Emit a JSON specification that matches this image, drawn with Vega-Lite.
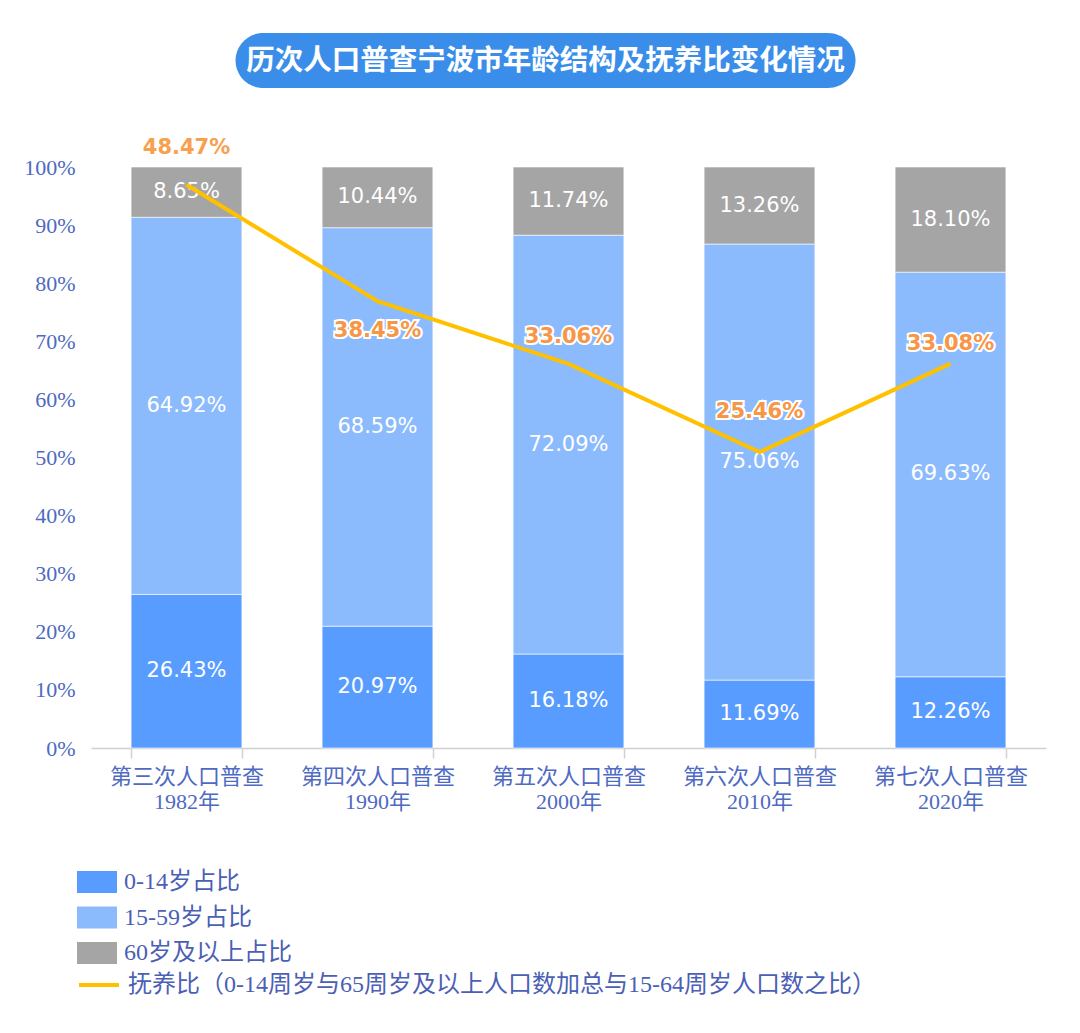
{
  "$schema": "https://vega.github.io/schema/vega-lite/v6.json",
  "padding": {"left": 23, "top": 33, "right": 10, "bottom": 10},
  "background": "white",
  "config": {"view": {"stroke": null}, "concat": {"spacing": 48}},
  "datasets": {
    "ages": [
      {"cen": "第三次人口普查 1982年", "grp": "0-14岁占比", "k": 1, "v": 0.2643},
      {"cen": "第三次人口普查 1982年", "grp": "15-59岁占比", "k": 2, "v": 0.6492},
      {"cen": "第三次人口普查 1982年", "grp": "60岁及以上占比", "k": 3, "v": 0.0865},
      {"cen": "第四次人口普查 1990年", "grp": "0-14岁占比", "k": 1, "v": 0.2097},
      {"cen": "第四次人口普查 1990年", "grp": "15-59岁占比", "k": 2, "v": 0.6859},
      {"cen": "第四次人口普查 1990年", "grp": "60岁及以上占比", "k": 3, "v": 0.1044},
      {"cen": "第五次人口普查 2000年", "grp": "0-14岁占比", "k": 1, "v": 0.1618},
      {"cen": "第五次人口普查 2000年", "grp": "15-59岁占比", "k": 2, "v": 0.7209},
      {"cen": "第五次人口普查 2000年", "grp": "60岁及以上占比", "k": 3, "v": 0.1174},
      {"cen": "第六次人口普查 2010年", "grp": "0-14岁占比", "k": 1, "v": 0.1169},
      {"cen": "第六次人口普查 2010年", "grp": "15-59岁占比", "k": 2, "v": 0.7506},
      {"cen": "第六次人口普查 2010年", "grp": "60岁及以上占比", "k": 3, "v": 0.1326},
      {"cen": "第七次人口普查 2020年", "grp": "0-14岁占比", "k": 1, "v": 0.1226},
      {"cen": "第七次人口普查 2020年", "grp": "15-59岁占比", "k": 2, "v": 0.6963},
      {"cen": "第七次人口普查 2020年", "grp": "60岁及以上占比", "k": 3, "v": 0.1810}
    ],
    "ratio": [
      {"cen": "第三次人口普查 1982年", "r": 0.4847},
      {"cen": "第四次人口普查 1990年", "r": 0.3845},
      {"cen": "第五次人口普查 2000年", "r": 0.3306},
      {"cen": "第六次人口普查 2010年", "r": 0.2546},
      {"cen": "第七次人口普查 2020年", "r": 0.3308}
    ],
    "title": [{"t": "历次人口普查宁波市年龄结构及抚养比变化情况"}]
  },
  "vconcat": [
    {
      "width": 620,
      "height": 55,
      "data": {"name": "title"},
      "title": {"text": " ", "orient": "right", "fontSize": 30, "offset": 16},
      "layer": [
        {"mark": {"type": "rect", "cornerRadius": 27.5, "color": "#3A8EEA"}, "encoding": {}},
        {"mark": {"type": "text", "color": "white", "font": "Noto Sans CJK SC", "fontWeight": "bold", "fontSize": 28.5, "baseline": "middle", "align": "center"},
         "encoding": {"text": {"field": "t"}}}
      ]
    },
    {
      "width": 955,
      "height": 581,
      "resolve": {"scale": {"y": "independent"}},
      "encoding": {
        "x": {
          "field": "cen", "type": "nominal", "sort": null,
          "scale": {"paddingInner": 0.42, "paddingOuter": 0.21},
          "axis": {
            "title": null, "labelAngle": 0, "labelExpr": "split(datum.label, ' ')",
            "labelFont": "Liberation Serif, Noto Sans CJK SC", "labelFontSize": 22, "labelColor": "#4E6AC2",
            "labelLineHeight": 25, "labelPadding": 8, "tickBand": "extent", "tickSize": 10,
            "domainColor": "#D0D0D0", "tickColor": "#D0D0D0", "domainWidth": 1.5, "tickWidth": 1.5
          }
        }
      },
      "layer": [
        {
          "data": {"name": "ages"},
          "mark": {"type": "bar", "stroke": "#ffffff", "strokeWidth": 1, "strokeOpacity": 0.6},
          "encoding": {
            "y": {"field": "v", "type": "quantitative", "stack": "normalize",
              "axis": {"title": null, "format": ".0%", "values": [0, 0.1, 0.2, 0.3, 0.4, 0.5, 0.6, 0.7, 0.8, 0.9, 1.0],
                "domain": false, "ticks": false, "grid": false, "labelFont": "Liberation Serif", "labelFontSize": 22,
                "labelColor": "#4E6AC2", "labelPadding": 16}},
            "color": {"field": "grp", "type": "nominal",
              "scale": {"domain": ["0-14岁占比", "15-59岁占比", "60岁及以上占比"], "range": ["#599CFF", "#8BBBFD", "#A5A5A5"]},
              "legend": {"title": null, "orient": "none", "legendX": -14, "legendY": 829, "direction": "vertical",
                "symbolType": "M-1,-0.55H1V0.55H-1Z", "symbolSize": 1600, "symbolStrokeWidth": 0,
                "labelFont": "Liberation Serif, Noto Sans CJK SC", "labelFontSize": 24, "labelColor": "#4B5FB5",
                "labelOffset": 7, "rowPadding": 3.5, "labelLimit": 1000}},
            "order": {"field": "k", "type": "quantitative"}
          }
        },
        {
          "data": {"name": "ages"},
          "mark": {"type": "text", "color": "white", "font": "DejaVu Sans", "fontSize": 21, "baseline": "middle"},
          "encoding": {
            "y": {"field": "v", "type": "quantitative", "stack": "normalize", "bandPosition": 0.5, "axis": null},
            "detail": {"field": "grp"},
            "order": {"field": "k", "type": "quantitative"},
            "text": {"field": "v", "type": "quantitative", "format": ".2%"}
          }
        },
        {
          "data": {"name": "ratio"},
          "layer": [
            {
              "mark": {"type": "line", "strokeWidth": 4},
              "encoding": {
                "y": {"field": "r", "type": "quantitative", "scale": {"domain": [0, 0.5]}, "axis": null},
                "stroke": {"datum": "抚养比（0-14周岁与65周岁及以上人口数加总与15-64周岁人口数之比）", "type": "nominal",
                  "scale": {"range": ["#FFC000"]},
                  "legend": {"title": null, "orient": "none", "legendX": -14, "legendY": 930,
                    "symbolType": "stroke", "symbolSize": 1600, "symbolStrokeWidth": 4,
                    "labelFont": "Liberation Serif, Noto Sans CJK SC", "labelFontSize": 24, "labelColor": "#4B5FB5",
                    "labelOffset": 7, "labelLimit": 1000}}
              }
            },
            {"transform": [{"filter": "datum.r == 0.4847"}],
             "layer": [
               {"mark": {"type": "text", "dy": -37, "font": "DejaVu Sans", "fontWeight": "bold", "fontSize": 21, "stroke": "white", "strokeWidth": 4, "baseline": "middle"},
                "encoding": {"y": {"field": "r", "type": "quantitative", "scale": {"domain": [0, 0.5]}, "axis": null}, "text": {"field": "r", "type": "quantitative", "format": ".2%"}}},
               {"mark": {"type": "text", "dy": -37, "font": "DejaVu Sans", "fontWeight": "bold", "fontSize": 21, "color": "#F9A04E", "baseline": "middle"},
                "encoding": {"y": {"field": "r", "type": "quantitative", "scale": {"domain": [0, 0.5]}, "axis": null}, "text": {"field": "r", "type": "quantitative", "format": ".2%"}}}
             ]},
            {"transform": [{"filter": "datum.r == 0.3845"}],
             "layer": [
               {"mark": {"type": "text", "dy": 30, "font": "DejaVu Sans", "fontWeight": "bold", "fontSize": 21, "stroke": "white", "strokeWidth": 4, "baseline": "middle"},
                "encoding": {"y": {"field": "r", "type": "quantitative", "scale": {"domain": [0, 0.5]}, "axis": null}, "text": {"field": "r", "type": "quantitative", "format": ".2%"}}},
               {"mark": {"type": "text", "dy": 30, "font": "DejaVu Sans", "fontWeight": "bold", "fontSize": 21, "color": "#F79646", "baseline": "middle"},
                "encoding": {"y": {"field": "r", "type": "quantitative", "scale": {"domain": [0, 0.5]}, "axis": null}, "text": {"field": "r", "type": "quantitative", "format": ".2%"}}}
             ]},
            {"transform": [{"filter": "datum.r == 0.3306"}],
             "layer": [
               {"mark": {"type": "text", "dy": -27, "font": "DejaVu Sans", "fontWeight": "bold", "fontSize": 21, "stroke": "white", "strokeWidth": 4, "baseline": "middle"},
                "encoding": {"y": {"field": "r", "type": "quantitative", "scale": {"domain": [0, 0.5]}, "axis": null}, "text": {"field": "r", "type": "quantitative", "format": ".2%"}}},
               {"mark": {"type": "text", "dy": -27, "font": "DejaVu Sans", "fontWeight": "bold", "fontSize": 21, "color": "#F79646", "baseline": "middle"},
                "encoding": {"y": {"field": "r", "type": "quantitative", "scale": {"domain": [0, 0.5]}, "axis": null}, "text": {"field": "r", "type": "quantitative", "format": ".2%"}}}
             ]},
            {"transform": [{"filter": "datum.r == 0.2546"}],
             "layer": [
               {"mark": {"type": "text", "dy": -40, "font": "DejaVu Sans", "fontWeight": "bold", "fontSize": 21, "stroke": "white", "strokeWidth": 4, "baseline": "middle"},
                "encoding": {"y": {"field": "r", "type": "quantitative", "scale": {"domain": [0, 0.5]}, "axis": null}, "text": {"field": "r", "type": "quantitative", "format": ".2%"}}},
               {"mark": {"type": "text", "dy": -40, "font": "DejaVu Sans", "fontWeight": "bold", "fontSize": 21, "color": "#F79646", "baseline": "middle"},
                "encoding": {"y": {"field": "r", "type": "quantitative", "scale": {"domain": [0, 0.5]}, "axis": null}, "text": {"field": "r", "type": "quantitative", "format": ".2%"}}}
             ]},
            {"transform": [{"filter": "datum.r == 0.3308"}],
             "layer": [
               {"mark": {"type": "text", "dy": -20, "font": "DejaVu Sans", "fontWeight": "bold", "fontSize": 21, "stroke": "white", "strokeWidth": 4, "baseline": "middle"},
                "encoding": {"y": {"field": "r", "type": "quantitative", "scale": {"domain": [0, 0.5]}, "axis": null}, "text": {"field": "r", "type": "quantitative", "format": ".2%"}}},
               {"mark": {"type": "text", "dy": -20, "font": "DejaVu Sans", "fontWeight": "bold", "fontSize": 21, "color": "#F79646", "baseline": "middle"},
                "encoding": {"y": {"field": "r", "type": "quantitative", "scale": {"domain": [0, 0.5]}, "axis": null}, "text": {"field": "r", "type": "quantitative", "format": ".2%"}}}
             ]}
          ]
        }
      ]
    }
  ],
  "center": true
}
